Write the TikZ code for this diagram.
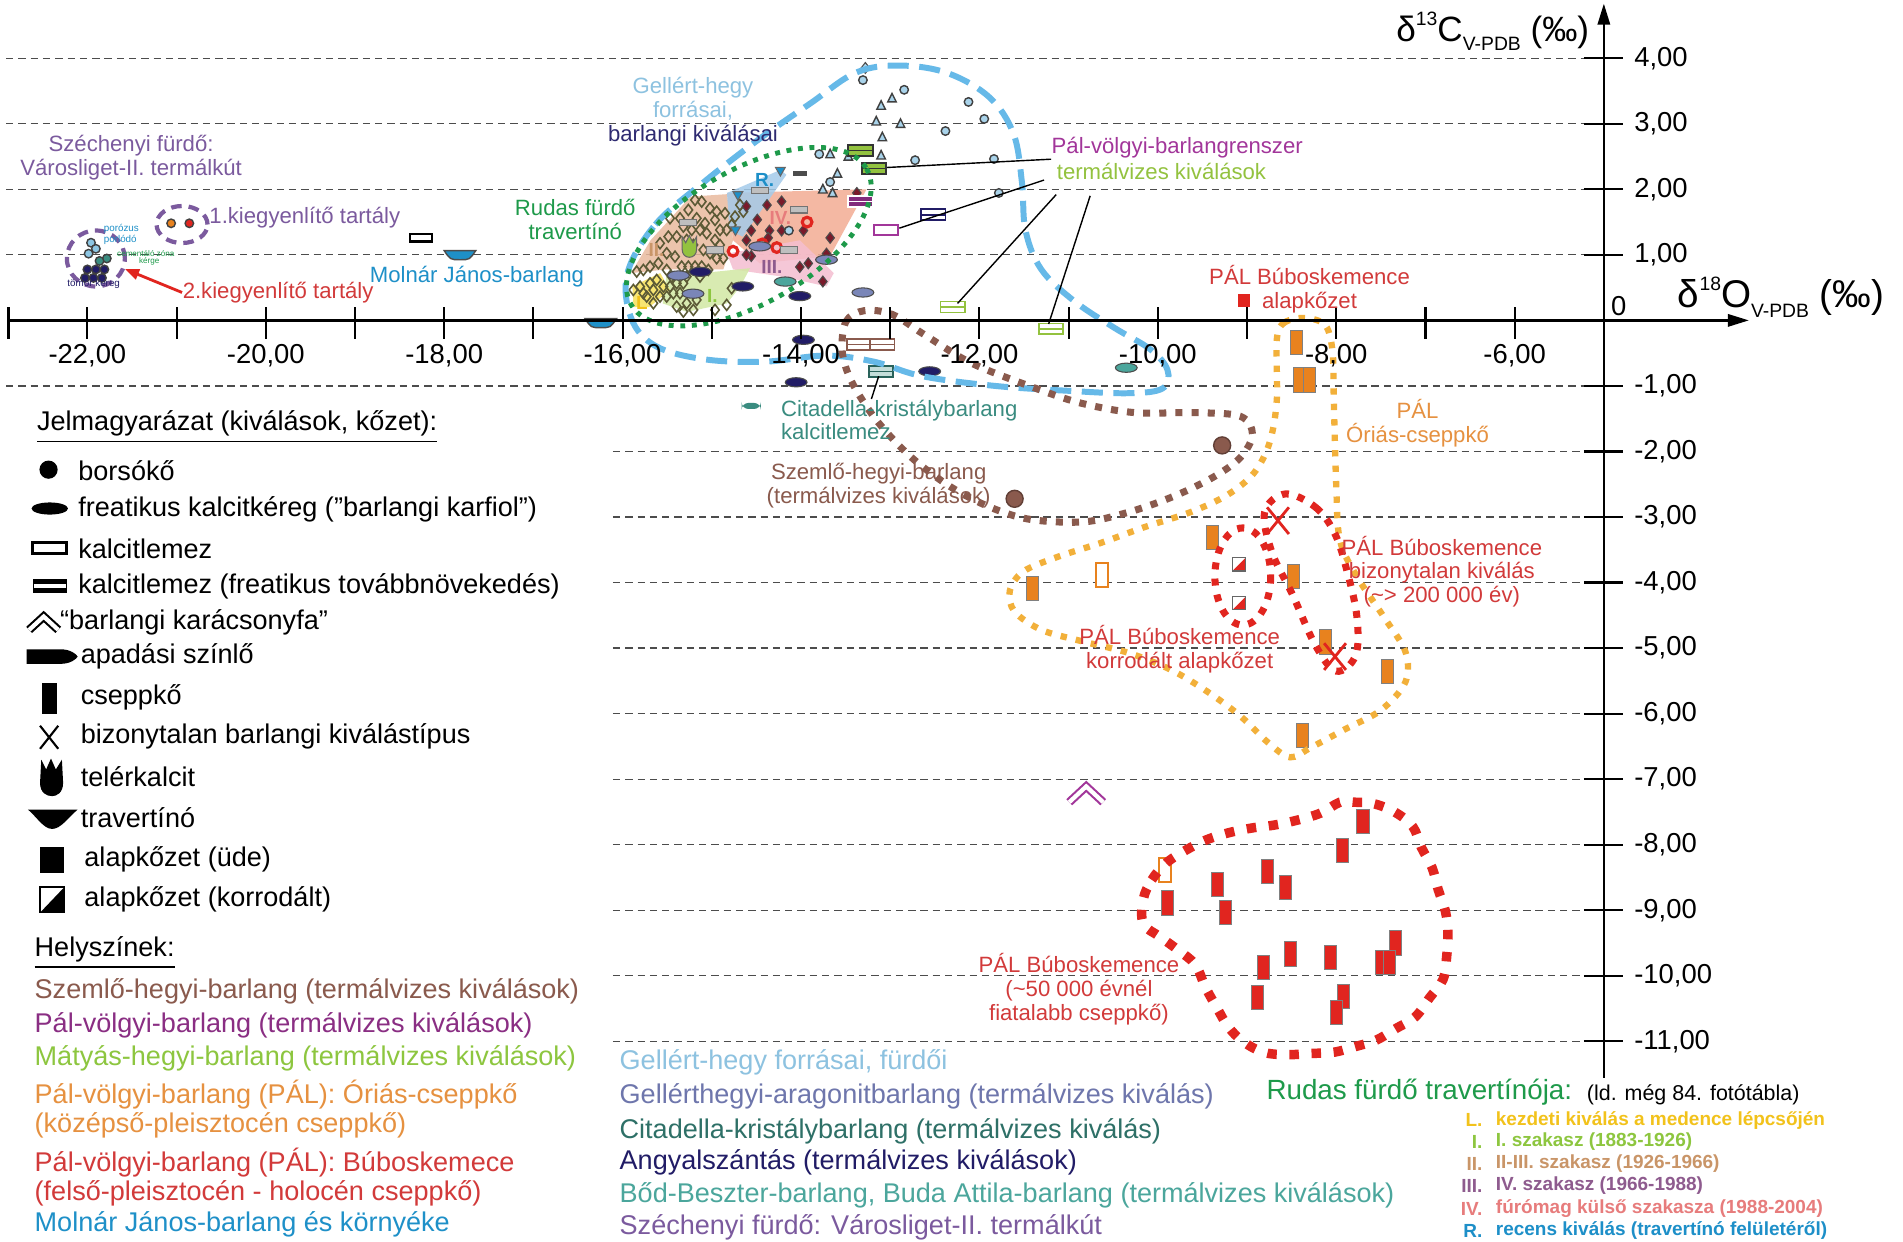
\documentclass[tikz,border=0pt]{standalone}
\usepackage{fontspec}
\setmainfont{Liberation Sans}
\usetikzlibrary{arrows.meta,shapes.geometric,calc}

\definecolor{gellertkek}{HTML}{66B9E8}
\definecolor{gellertvil}{HTML}{8DC2E0}
\definecolor{gellertfill}{HTML}{A9D3EA}
\definecolor{gbarlnavy}{HTML}{2E2A70}
\definecolor{rudaszold}{HTML}{1E9A4A}
\definecolor{rudasolive}{HTML}{5C5A36}
\definecolor{rudasdark}{HTML}{7A1A2A}
\definecolor{szemlobarna}{HTML}{8A5A4D}
\definecolor{oriasnarancs}{HTML}{F2B03A}
\definecolor{oriasszoveg}{HTML}{E69140}
\definecolor{csepnarancs}{HTML}{E8821E}
\definecolor{bubopiros}{HTML}{E1251F}
\definecolor{bubszoveg}{HTML}{D23A3A}
\definecolor{szechlila}{HTML}{7B5A9E}
\definecolor{pallila}{HTML}{A2369A}
\definecolor{matyaszold}{HTML}{93C23F}
\definecolor{molnarkek}{HTML}{1E90C8}
\definecolor{citateal}{HTML}{3A8C80}
\definecolor{angyalnavy}{HTML}{211C66}
\definecolor{bodteal}{HTML}{4BA69C}
\definecolor{aragonit}{HTML}{6E76AC}
\definecolor{kerekszurke}{HTML}{7A86B8}
\definecolor{rL}{HTML}{F7E15A}
\definecolor{rI}{HTML}{D2E8A4}
\definecolor{rII}{HTML}{E9BA9E}
\definecolor{rIII}{HTML}{F4BED0}
\definecolor{rIV}{HTML}{F3AC94}
\definecolor{rR}{HTML}{A4CBEA}
\definecolor{tL}{HTML}{F2C21B}
\definecolor{tI}{HTML}{8DC63F}
\definecolor{tII}{HTML}{C99568}
\definecolor{tIII}{HTML}{8E5B8E}
\definecolor{tIV}{HTML}{E77C7C}
\definecolor{tR}{HTML}{1D8FC8}

\newcommand{\felso}[1]{\raisebox{0.85ex}{\fontsize{5.5}{5.5}\selectfont #1}}
\newcommand{\also}[1]{\raisebox{-0.5ex}{\fontsize{5.5}{5.5}\selectfont #1}}

\newcommand{\csepp}[3]{%kwargs x, y, fill
  \filldraw[fill=#3, draw=black!50, line width=0.25pt]
  (#1-5, #2-10) rectangle (#1+5, #2+10);
}
\newcommand{\cseppures}[3]{%kwargs x, y, colour
  \filldraw[fill=white, draw=#3, line width=0.6pt]
  (#1-5, #2-10) rectangle (#1+5, #2+10);
}
\newcommand{\lemez}[4]{%kwargs x, y, outline, fill
  \filldraw[fill=#4, draw=#3, line width=0.5pt]
  (#1-10, #2-4.5) rectangle (#1+10, #2+4.5);
  \draw[#3, line width=0.4pt] (#1-10, #2) -- (#1+10, #2);
}
\newcommand{\kereg}[3]{%kwargs x, y, fill
  \filldraw[fill=#3, draw=black!70, line width=0.3pt] (#1, #2) ellipse (9 and 3.8);
}
\newcommand{\gyem}[3]{%kwargs x, y, colour
  \draw[#3, line width=0.45pt] (#1-3.5, #2) -- (#1, #2-4.5)
  -- (#1+3.5, #2) -- (#1, #2+4.5) -- cycle;
}
\newcommand{\gyemf}[3]{%kwargs x, y, fill
  \filldraw[fill=#3, draw=black!70, line width=0.3pt] (#1-3.5, #2) -- (#1, #2-4.5)
  -- (#1+3.5, #2) -- (#1, #2+4.5) -- cycle;
}
\newcommand{\harom}[2]{%kwargs x, y
  \filldraw[fill=gellertfill, draw=black!75, line width=0.4pt]
  (#1-3.5, #2+3) -- (#1+3.5, #2+3) -- (#1, #2-4) -- cycle;
}
\newcommand{\karika}[3]{%kwargs x, y, fill
  \filldraw[fill=#3, draw=black!75, line width=0.4pt] (#1, #2) circle (3.5);
}
\newcommand{\trav}[3]{%kwargs x, y, fill
  \filldraw[fill=#3, draw=black!70, line width=0.4pt] (#1-13, #2-3.5) -- (#1+13, #2-3.5)
  .. controls (#1+8, #2+4) .. (#1, #2+4) .. controls (#1-8, #2+4) .. (#1-13, #2-3.5) -- cycle;
}
\newcommand{\korrod}[3]{%kwargs x, y, half-width
  \fill[white] (#1-#3, #2-#3) rectangle (#1+#3, #2+#3);
  \fill[bubopiros] (#1+#3, #2-#3) -- (#1+#3, #2+#3) -- (#1-#3, #2+#3) -- cycle;
  \draw[black!60, line width=0.3pt] (#1-#3, #2-#3) rectangle (#1+#3, #2+#3);
}

\begin{document}
\begin{tikzpicture}[x=0.12137mm, y=-0.12137mm,
  racs/.style={dash pattern=on 2.1pt off 1.4pt, line width=0.35pt, black!70},
  lbl/.style={font=\fontsize{7.7}{9.2}\selectfont, anchor=west, inner sep=0pt},
  annot/.style={font=\fontsize{6.3}{6.8}\selectfont, align=center, inner sep=0pt},
  apro/.style={font=\fontsize{2.8}{3}\selectfont, anchor=west, inner sep=0pt},
  tickl/.style={font=\fontsize{7.8}{9}\selectfont, inner sep=0pt},
  lista/.style={font=\bfseries\fontsize{5.4}{6.5}\selectfont, inner sep=0pt},
  tojas/.style={ellipse, draw=szechlila, line width=1.2pt, dash pattern=on 3pt off 2pt, inner sep=0pt}]
  \useasboundingbox (0,0) rectangle (1568,1023);
  \fill[white] (0,0) rectangle (1568,1023);

  %dashed grid
  \foreach \k in {4,3,2,1,-1}
    \draw[racs] (5,264-54*\k) -- (1305,264-54*\k);
  \foreach \k in {-2,-3,...,-11}
    \draw[racs] (505,264-54*\k) -- (1305,264-54*\k);

  %Rudas fürdő travertínó stages
  \fill[rII, opacity=0.85] (520,225) -- (536,198) -- (569,162) -- (599,160) -- (604,198) -- (596,222) -- (549,222) -- cycle;
  \fill[rIV, opacity=0.85] (599,159) -- (714,156) -- (684,211) -- (626,217) -- (604,198) -- cycle;
  \fill[rIII, opacity=0.85] (599,209) -- (659,198) -- (687,225) -- (681,236) -- (645,228) -- (604,222) -- cycle;
  \fill[rI, opacity=0.85] (549,228) -- (618,221) -- (610,236) -- (599,250) -- (566,257) -- (546,250) -- cycle;
  \fill[rL, opacity=0.85] (521,236) -- (544,225) -- (552,239) -- (535,253) -- (522,253) -- cycle;
  \fill[rR, opacity=0.85] (599,159) -- (643,140) -- (648,144) -- (612,195) -- (601,190) -- cycle;
  \foreach \a/\b in {285/210, 305/215, 330/235, 350/245, 265/240, 290/265, 315/280, 345/270,
      360/300, 380/300, 395/285, 405/260, 375/250, 240/265, 210/265, 250/290, 275/300, 300/300,
      320/310, 345/330, 360/345, 370/385, 350/385, 330/370, 310/360, 280/345, 260/330, 230/320,
      205/320, 180/340, 200/370, 225/380, 245/410, 265/410, 285/410, 305/410, 325/420, 150/410,
      130/420, 110/425, 175/400, 200/420, 170/450, 150/460, 120/470, 100/480, 130/490, 160/480,
      190/470, 210/470, 230/460, 250/460, 180/500, 160/520, 140/500, 200/500, 220/490, 240/490,
      260/520, 280/540, 250/545, 345/540, 380/525, 395/475, 230/530, 290/510, 215/440, 260/440,
      300/440, 420/225, 430/245}
    {\gyem{494.4+0.2746*\a}{107.1+0.2746*\b}{rudasolive}}
  \foreach \a/\b in {615/170, 632/169, 644/166, 624/181, 634/190, 644/190, 662/190, 684/196,
      619/190, 615/198, 633/196, 619/211, 615/210, 659/220, 666/217, 678/232, 681/209, 706/159}
    {\gyemf{\a}{\b}{rudasdark}}
  \foreach \a/\b in {604/207, 628/201, 640/204, 665/183}
    \draw[bubopiros, line width=0.9pt] (\a,\b) circle (4);
  \foreach \a/\b in {643/141, 608/161, 606/190}
    \filldraw[fill=tR, draw=black!60, line width=0.3pt] (\a-4,\b-3) -- (\a+4,\b-3) -- (\a,\b+4) -- cycle;
  \foreach \a/\b in {658/173, 650/206, 589/206, 567/183, 626/157}
    \filldraw[fill=black!25, draw=black!55, line width=0.3pt] (\a-7,\b-2.5) rectangle (\a+7,\b+2.5);
  \fill[black!70] (653,141) rectangle (665,145);
  %telérkalcit
  \filldraw[fill=matyaszold, draw=black!60, line width=0.3pt] (562,195) -- (565,200) -- (568,194)
    -- (571,200) -- (574,195) -- (574,205) .. controls (574,210) and (571,212) .. (568,212)
    .. controls (565,212) and (562,210) .. (562,205) -- cycle;
  \node[lista, tII] (rII) at (541,206) {II.};
  \node[lista, tI] (rI) at (587,244) {I.};
  \node[lista, tL] (rL) at (529,250) {L};
  \node[lista, tIV] (rIV) at (643,180) {IV.};
  \node[lista, tIII] (rIII) at (636,220) {III.};
  \node[lista, tR] (rR) at (630,148) {R.};

  %Gellért-hegy
  \gyemf{713}{56}{gellertfill}
  \foreach \a/\b in {726/87, 735/81, 722/100, 742/102, 727/113, 684/127, 726/128, 699/129,
      690/143, 678/156, 686/159}
    {\harom{\a}{\b}}
  \foreach \a/\b in {711/66, 745/74, 798/84, 811/98, 779/108, 675/127, 754/132, 819/131,
      684/150, 823/159, 650/190}
    {\karika{\a}{\b}{gellertfill}}

  %kalcitlemez
  \lemez{709}{124}{black!80}{matyaszold}
  \lemez{720}{139}{black!80}{matyaszold}
  \lemez{709}{166}{white}{pallila!80!black}
  \lemez{769}{177}{angyalnavy}{white}
  \lemez{785}{253}{matyaszold}{white}
  \lemez{866}{271}{matyaszold}{white}
  \lemez{708}{284}{szemlobarna}{white}
  \lemez{727}{284}{szemlobarna}{white}
  \lemez{726}{306}{citateal!70!black}{citateal!30}
  \filldraw[fill=white, draw=pallila, line width=0.7pt] (720,185.5) rectangle (740,193.5);
  \filldraw[fill=white, draw=black, line width=0.7pt] (338,193) rectangle (356,199);

  %freatikus kalcitkéreg
  \foreach \a/\b in {577/224, 612/236, 659/244, 662/280, 656/315, 766/306}
    {\kereg{\a}{\b}{angyalnavy}}
  \foreach \a/\b in {559/227, 571/242, 626/203, 681/214, 711/241}
    {\kereg{\a}{\b}{kerekszurke}}
  \foreach \a/\b in {647/232, 928/303}
    {\kereg{\a}{\b}{bodteal}}
  \fill[citateal, rounded corners=2pt] (611,332) rectangle (627,337);

  %travertínó, borsókő, karácsonyfa
  \trav{379}{210}{molnarkek}
  \trav{495}{266}{molnarkek}
  \filldraw[fill=szemlobarna, draw=szemlobarna!70!black] (1007,367) circle (7);
  \filldraw[fill=szemlobarna, draw=szemlobarna!70!black] (836,411) circle (7);
  \draw[draw=pallila, double=white, double distance=1.2pt, line width=0.6pt]
    (881,661) -- (895,648) -- (909,661);

  %Óriás-cseppkő and Búboskemence
  \foreach \a/\b in {1068/282, 1071/313, 1079/313, 999/443, 851/485, 1066/475, 1092/529,
      1143/553, 1073/606}
    {\csepp{\a}{\b}{csepnarancs}}
  \cseppures{908}{474}{csepnarancs}
  \cseppures{960}{717}{csepnarancs}
  \foreach \a/\b in {1123/677, 1106/701, 1044/718, 1059/731, 1003/729, 962/744, 1010/752,
      1063/786, 1096/789, 1041/797, 1150/777, 1138/793, 1145/793, 1036/822, 1107/821, 1101/834}
    {\csepp{\a}{\b}{bubopiros}}
  \korrod{1021}{465}{5.5}
  \korrod{1021}{497}{5.5}
  \draw[bubopiros, line width=0.8pt] (1044,418) -- (1062,440) (1062,418) -- (1044,440);
  \draw[bubopiros, line width=0.8pt] (1091,530) -- (1109,552) (1109,530) -- (1091,552);
  \fill[bubopiros] (1020,242) rectangle (1030,253);

  %outlines
  \draw[gellertkek, line width=1.7pt, dash pattern=on 6pt off 3pt]
    plot[smooth cycle, tension=0.6] coordinates {(517,225) (540,185) (580,150) (625,115)
    (668,85) (705,60) (740,54) (780,60) (815,80) (835,110) (842,150) (845,190) (858,222)
    (885,248) (918,270) (948,288) (962,305) (958,320) (930,324) (880,322) (820,318)
    (760,310) (720,298) (680,293) (630,298) (580,296) (540,285) (520,262)};
  \draw[rudaszold, line width=1.4pt, dash pattern=on 1.4pt off 1.9pt, rotate around={30:(617,195)}]
    (617,195) ellipse (112 and 55);
  \draw[szemlobarna, line width=2pt, dash pattern=on 2pt off 2.6pt]
    plot[smooth cycle, tension=0.55] coordinates {(694,290) (697,265) (712,256) (735,259)
    (762,276) (800,299) (848,318) (890,332) (935,340) (985,340) (1022,343) (1032,358)
    (1022,377) (1000,393) (967,409) (930,422) (893,430) (849,428) (816,418) (783,401)
    (750,376) (722,346) (702,315)};
  \draw[oriasnarancs, line width=1.8pt, dash pattern=on 1.8pt off 2.6pt]
    plot[smooth cycle, tension=0.55] coordinates {(1052,280) (1058,266) (1075,262)
    (1092,268) (1098,290) (1099,330) (1101,400) (1104,445) (1118,475) (1140,508)
    (1158,537) (1158,562) (1138,585) (1108,601) (1080,616) (1063,624) (1045,612)
    (1022,590) (995,570) (965,552) (930,538) (890,528) (858,519) (836,504) (832,487)
    (843,471) (871,459) (908,447) (944,434) (981,422) (1011,408) (1033,390) (1046,365)
    (1052,330)};
  \draw[bubopiros, line width=2pt, dash pattern=on 2pt off 2.6pt] (1024,475) ellipse (23 and 40);
  \draw[bubopiros, line width=2pt, dash pattern=on 2pt off 2.6pt]
    plot[smooth cycle, tension=0.6] coordinates {(1059,407) (1084,418) (1100,440) (1110,471)
    (1118,508) (1117,540) (1101,553) (1084,532) (1065,490) (1048,455) (1042,422)};
  \draw[bubopiros, line width=2.7pt, dash pattern=on 2.7pt off 3.6pt]
    plot[smooth cycle, tension=0.6] coordinates {(942,741) (949,725) (961,711) (978,700)
    (994,692) (1013,686) (1033,682) (1049,680) (1068,676) (1088,670) (1104,661) (1115,661)
    (1131,662) (1149,669) (1164,681) (1171,698) (1180,715) (1185,733) (1191,751) (1193,769)
    (1192,788) (1189,807) (1178,822) (1166,838) (1151,847) (1134,857) (1118,862) (1099,867)
    (1080,868) (1060,869) (1041,867) (1024,858) (1012,846) (1003,831) (993,813) (985,795)
    (971,783) (956,772) (942,761)};

  %Széchenyi fürdő
  \foreach \a/\b in {75/200, 79/205, 73/209}
    {\karika{\a}{\b}{gellertfill!80!molnarkek}}
  \foreach \a/\b in {88/213, 82/215}
    {\karika{\a}{\b}{citateal}}
  \foreach \a/\b in {72/222, 79/222, 86/222, 70/229, 77/229, 84/229}
    {\karika{\a}{\b}{angyalnavy}}
  \karika{141}{184}{csepnarancs}
  \karika{156}{184}{bubopiros}
  \node[tojas, minimum width=5.8mm, minimum height=5.6mm] (szechtojas) at (79,213) {};
  \node[tojas, minimum width=5.1mm, minimum height=3.7mm] (kiegtojas) at (150,185) {};
  \node[apro, molnarkek] (porozus) at (85,189) {porózus};
  \node[apro, molnarkek] (porlodo) at (85,198) {porlódó};
  \node[apro, rudaszold, font=\fontsize{2.3}{2.5}\selectfont] (cement) at (96,209) {cementáló zóna};
  \node[apro, rudaszold, font=\fontsize{2.3}{2.5}\selectfont] (kerge) at (114,215) {kérge};
  \node[apro, angyalnavy] (tomor) at (55,234) {tömör kéreg};

  %axes
  \draw[line width=0.7pt, -{Triangle[length=6pt, width=3.5pt]}] (7,264) -- (1441,264);
  \draw[line width=0.7pt, -{Triangle[length=6pt, width=3.5pt]}] (1321.5,888) -- (1321.5,3);
  \draw[line width=0.6pt] (7,253) -- (7,279);
  \foreach \k in {-22,...,-6}
    \draw[line width=0.6pt] (72+73.5*\k+73.5*22,253) -- (72+73.5*\k+73.5*22,279);
  \foreach \k in {-22,-20,...,-6}
    \node[tickl] (xl\k) at (72+73.5*\k+73.5*22,293) {\k,00};
  \foreach \k in {4,3,...,-11}
    \draw[line width=0.6pt] (1305,264-54*\k) -- (1337,264-54*\k);
  \foreach \k in {4,3,2,1,-1,-2,...,-11}
    \node[tickl, anchor=west] (yl\k) at (1346,264-54*\k) {\k,00};
  \node[tickl, anchor=west] (nulla) at (1327,252) {0};
  \node[inner sep=0pt, anchor=east, font=\fontsize{10}{10}\selectfont] (ytitle) at (1310,26)
    {δ\felso{13}C\also{V-PDB} (‰)};
  \node[inner sep=0pt, anchor=west, font=\fontsize{11}{11}\selectfont] (xtitle) at (1382,245)
    {δ\felso{18}O\also{V-PDB} (‰)};

  %labels in the plot
  \node[annot, szechlila] (szechlbl) at (108,130) {Széchenyi fürdő:\\Városliget-II. termálkút};
  \node[annot] (gellertlbl) at (571,92) {\textcolor{gellertvil}{Gellért-hegy}\\
    \textcolor{gellertvil}{forrásai,}\\ \textcolor{gbarlnavy}{barlangi kiválásai}};
  \node[annot, rudaszold] (rudaslbl) at (474,181) {Rudas fürdő\\travertínó};
  \node[annot, molnarkek] (molnarlbl) at (393,228) {Molnár János-barlang};
  \node[annot, szechlila, anchor=west] (kieg1) at (172,179) {1.kiegyenlítő tartály};
  \node[annot, bubszoveg, anchor=west] (kieg2) at (150,241) {2.kiegyenlítő tartály};
  \node[annot, pallila] (palvolgyi) at (970,122) {Pál-völgyi-barlangrenszer};
  \node[annot, matyaszold] (termal) at (957,141) {termálvizes kiválások};
  \node[annot, bubszoveg] (alaplbl) at (1079,238) {PÁL Búboskemence\\alapkőzet};
  \node[annot, oriasszoveg] (orialbl) at (1168,349) {PÁL\\Óriás-cseppkő};
  \node[annot, citateal, anchor=west, align=left] (citlbl) at (643,346)
    {Citadella-kristálybarlang\\kalcitlemez};
  \node[annot, szemlobarna] (szemlolbl) at (724,400) {Szemlő-hegyi-barlang\\(termálvizes kiválások)};
  \node[annot, bubszoveg] (korrlbl) at (972,535) {PÁL Búboskemence\\korrodált alapkőzet};
  \node[annot, bubszoveg] (bizlbl) at (1188,471)
    {PÁL Búboskemence\\bizonytalan kiválás\\(\textasciitilde> 200 000 év)};
  \node[annot, bubszoveg] (fiatlbl) at (889,815)
    {PÁL Búboskemence\\(\textasciitilde50 000 évnél\\fiatalabb cseppkő)};

  %leader lines
  \coordinate (lm1) at (731,138);
  \coordinate (lm2) at (741,188);
  \coordinate (lm3) at (789,250);
  \coordinate (lm4) at (864,267);
  \coordinate (lm5) at (724,310);
  \draw[line width=0.4pt] (palvolgyi.south west) -- (lm1);
  \draw[line width=0.4pt] ($(termal.south west)+(-10,0)$) -- (lm2);
  \draw[line width=0.4pt] ($(termal.south west)+(0,12)$) -- (lm3);
  \draw[line width=0.4pt] ($(termal.south west)+(28,13)$) -- (lm4);
  \draw[line width=0.4pt] ($(citlbl.north west)+(75,0)$) -- (lm5);
  \draw[bubopiros, line width=0.8pt, -{Triangle[length=4pt, width=3pt]}] (kieg2.west) -- (szechtojas.-20);

  %legend of symbols
  \node[lbl] (jelm) at (30,352) {\underline{Jelmagyarázat (kiválások, kőzet):}};
  \fill (40,387) circle (7.5);
  \fill (41,419) ellipse (15 and 5);
  \draw[line width=0.9pt] (27,447) rectangle (55,456);
  \fill (27,477) rectangle (55,489);
  \draw[white, line width=1.1pt] (28,483) -- (54,483);
  \draw[double=white, double distance=1.2pt, line width=0.6pt] (24,519) -- (36,508) -- (48,519);
  \fill (22,535) -- (50,535) .. controls (58,535) and (63,539) .. (64,541)
    .. controls (63,543) and (58,547) .. (50,547) -- (22,547) -- cycle;
  \fill (35,563) rectangle (47,588);
  \draw[line width=0.6pt] (33,598) -- (48,617) (48,598) -- (33,617);
  \fill (34,626) -- (38,634) -- (42,625) -- (46,634) -- (51,626) -- (52,645)
    .. controls (52,653) and (47,656) .. (43,656) .. controls (38,656) and (33,653) .. (33,645) -- cycle;
  \fill (23,667) -- (64,667) .. controls (56,674) and (50,683) .. (43,683)
    .. controls (36,683) and (31,674) .. (23,667) -- cycle;
  \fill (33,698) rectangle (53,719);
  \fill (53,731) -- (53,752) -- (33,752) -- cycle;
  \draw[line width=0.4pt] (33,731) rectangle (53,752);
  \node[lbl] (j1) at (64,388) {borsókő};
  \node[lbl] (j2) at (64,420) {freatikus kalcitkéreg (”barlangi karfiol”)};
  \node[lbl] (j3) at (64,452) {kalcitlemez};
  \node[lbl] (j4) at (64,483) {kalcitlemez (freatikus továbbnövekedés)};
  \node[lbl] (j5) at (49,513) {“barlangi karácsonyfa”};
  \node[lbl] (j6) at (66,541) {apadási színlő};
  \node[lbl] (j7) at (66,575) {cseppkő};
  \node[lbl] (j8) at (66,607) {bizonytalan barlangi kiválástípus};
  \node[lbl] (j9) at (66,640) {telérkalcit};
  \node[lbl] (j10) at (66,674) {travertínó};
  \node[lbl] (j11) at (69,708) {alapkőzet (üde)};
  \node[lbl] (j12) at (69,741) {alapkőzet (korrodált)};

  %legend of sites
  \node[lbl] (hely) at (28,785) {\underline{Helyszínek:}};
  \node[lbl, szemlobarna] (h1) at (28,817) {Szemlő-hegyi-barlang (termálvizes kiválások)};
  \node[lbl, pallila!85!black] (h2) at (28,845) {Pál-völgyi-barlang (termálvizes kiválások)};
  \node[lbl, tI] (h3) at (28,872) {Mátyás-hegyi-barlang (termálvizes kiválások)};
  \node[lbl, oriasszoveg] (h4) at (28,902) {Pál-völgyi-barlang (PÁL): Óriás-cseppkő};
  \node[lbl, oriasszoveg] (h5) at (28,927) {(középső-pleisztocén cseppkő)};
  \node[lbl, bubszoveg] (h6) at (28,958) {Pál-völgyi-barlang (PÁL): Búboskemece};
  \node[lbl, bubszoveg] (h7) at (28,983) {(felső-pleisztocén - holocén cseppkő)};
  \node[lbl, molnarkek] (h8) at (28,1009) {Molnár János-barlang és környéke};
  \node[lbl, gellertvil] (h9) at (510,875) {Gellért-hegy forrásai, fürdői};
  \node[lbl, aragonit] (h10) at (510,903) {Gellérthegyi-aragonitbarlang (termálvizes kiválás)};
  \node[lbl, citateal!80!black] (h11) at (510,932) {Citadella-kristálybarlang (termálvizes kiválás)};
  \node[lbl, angyalnavy] (h12) at (510,958) {Angyalszántás (termálvizes kiválások)};
  \node[lbl, bodteal] (h13) at (510,985) {Bőd-Beszter-barlang, Buda Attila-barlang (termálvizes kiválások)};
  \node[lbl, szechlila] (h14) at (510,1011) {Széchenyi fürdő: Városliget-II. termálkút};
  \node[lbl, rudaszold, font=\fontsize{7.9}{9}\selectfont] (rudasfej) at (1043,900) {Rudas fürdő travertínója:};
  \node[lbl, font=\fontsize{6.1}{7}\selectfont] (fototabla) at (1307,902) {(ld. még 84. fotótábla)};
  \foreach \m/\t/\c/\y in {L./kezdeti kiválás a medence lépcsőjén/tL/923,
      I./I. szakasz (1883-1926)/tI/941,
      II./II-III. szakasz (1926-1966)/tII/959,
      III./IV. szakasz (1966-1988)/tIII/977,
      IV./fúrómag külső szakasza (1988-2004)/tIV/996,
      R./recens kiválás (travertínó felületéről)/tR/1014}
    {\node[lista, \c, anchor=east] (m\y) at (1222,\y) {\m};
     \node[lista, \c, anchor=west] (t\y) at (1232,\y) {\t};}
\end{tikzpicture}
\end{document}
